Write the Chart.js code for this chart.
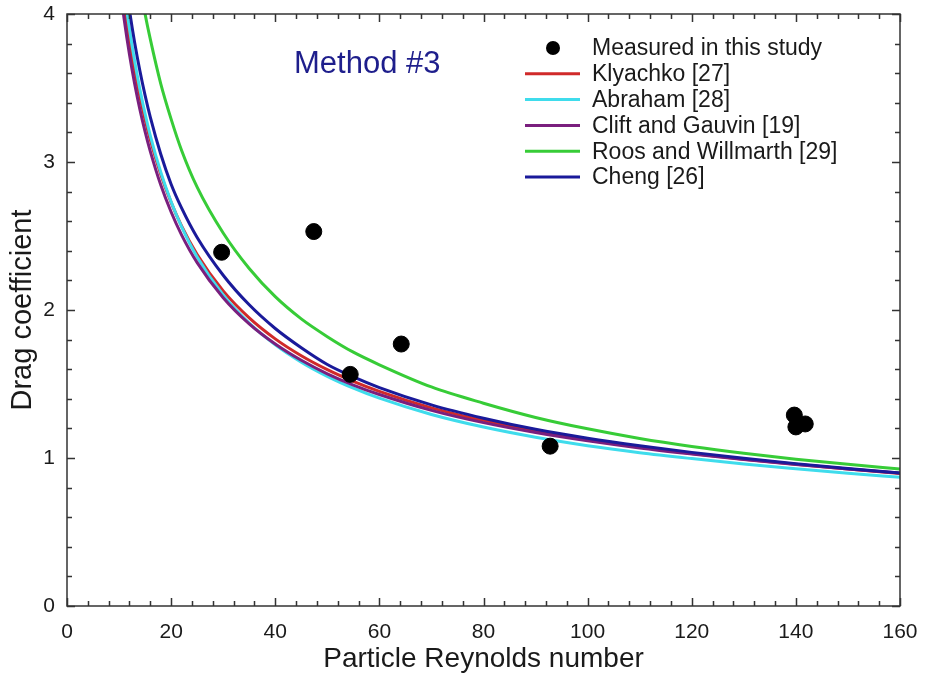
<!DOCTYPE html>
<html>
<head>
<meta charset="utf-8">
<title>Drag coefficient - Method #3</title>
<script src="https://cdn.jsdelivr.net/npm/chart.js@4.4.1/dist/chart.umd.min.js"></script>
<style>
  html, body { margin: 0; padding: 0; background: #fff; }
  canvas { display: block; }
</style>
</head>
<body>
<canvas id="chart" width="935" height="682"></canvas>
<script>
const reynolds = [10, 11, 12, 13, 14, 15, 16, 18, 20, 22, 25, 30, 35, 40, 45, 50, 55, 60, 70, 80, 90, 100, 110, 120, 130, 140, 150, 160];

// Drag coefficient of each correlation
const klyachko = [4.342, 4.060, 3.822, 3.618, 3.441, 3.286, 3.149, 2.917, 2.727, 2.568, 2.375, 2.129, 1.947, 1.805, 1.691, 1.597, 1.518, 1.450, 1.339, 1.254, 1.182, 1.124, 1.074, 1.031, 0.992, 0.957, 0.925, 0.896];
const abraham = [4.455, 4.153, 3.898, 3.680, 3.491, 3.326, 3.179, 2.932, 2.731, 2.563, 2.358, 2.101, 1.911, 1.765, 1.648, 1.552, 1.472, 1.404, 1.294, 1.209, 1.140, 1.083, 1.036, 0.996, 0.959, 0.927, 0.897, 0.870];
const cliftGauvin = [4.234, 3.959, 3.727, 3.528, 3.356, 3.205, 3.072, 2.846, 2.662, 2.508, 2.320, 2.083, 1.906, 1.770, 1.660, 1.569, 1.493, 1.429, 1.322, 1.239, 1.172, 1.116, 1.068, 1.027, 0.989, 0.956, 0.926, 0.898];
const roosWillmarth = [5.32, 4.97, 4.68, 4.42, 4.20, 4.00, 3.83, 3.53, 3.29, 3.08, 2.83, 2.52, 2.28, 2.09, 1.94, 1.82, 1.715, 1.63, 1.48, 1.37, 1.274, 1.197, 1.132, 1.078, 1.032, 0.992, 0.957, 0.926];
const cheng = [4.581, 4.279, 4.025, 3.806, 3.616, 3.450, 3.303, 3.054, 2.850, 2.690, 2.490, 2.235, 2.035, 1.875, 1.745, 1.632, 1.548, 1.476, 1.359, 1.269, 1.194, 1.134, 1.083, 1.038, 0.998, 0.962, 0.929, 0.899];

// Measured points
const measuredRe = [29.7, 47.4, 54.4, 64.2, 92.8, 139.7, 140.0, 141.8];
const measuredCd = [2.39, 2.53, 1.565, 1.77, 1.08, 1.29, 1.21, 1.23];

// Axis ticks
const xTicks = [0, 20, 40, 60, 80, 100, 120, 140, 160];
const yTicks = [0, 1, 2, 3, 4];

const FONT = "'Liberation Sans', Arial, Helvetica, sans-serif";

function toPoints(xs, ys) {
    return xs.map((x, i) => ({ x: x, y: ys[i] }));
}

function curve(label, values, color, order) {
    return {
        label: label,
        data: toPoints(reynolds, values),
        showLine: true,
        borderColor: color,
        backgroundColor: color,
        borderWidth: 3,
        pointRadius: 0,
        pointHoverRadius: 0,
        cubicInterpolationMode: 'monotone',
        clip: 0,
        order: order
    };
}

// Frame with inward ticks on all four sides, legend and the "Method #3" note
const framePlugin = {
    id: 'framePlugin',
    afterDatasetsDraw(chart) {
        const ctx = chart.ctx;
        const a = chart.chartArea;
        const xs = chart.scales.x;
        const ys = chart.scales.y;
        ctx.save();
        ctx.strokeStyle = '#333';
        ctx.lineWidth = 1.5;
        ctx.strokeRect(a.left, a.top, a.right - a.left, a.bottom - a.top);

        ctx.beginPath();
        for (let v = 0; v <= 160; v += 4) {
            const len = (v % 20 === 0) ? 8 : 5;
            const px = Math.round(xs.getPixelForValue(v)) + 0.5;
            ctx.moveTo(px, a.bottom); ctx.lineTo(px, a.bottom - len);
            ctx.moveTo(px, a.top); ctx.lineTo(px, a.top + len);
        }
        for (let k = 0; k <= 20; k++) {
            const v = k * 0.2;
            const len = (k % 5 === 0) ? 8 : 5;
            const py = Math.round(ys.getPixelForValue(v)) + 0.5;
            ctx.moveTo(a.left, py); ctx.lineTo(a.left + len, py);
            ctx.moveTo(a.right, py); ctx.lineTo(a.right - len, py);
        }
        ctx.stroke();
        ctx.restore();
    },
    afterDraw(chart) {
        const ctx = chart.ctx;
        ctx.save();
        // note
        ctx.fillStyle = '#1e1e8c';
        ctx.font = '31px ' + FONT;
        ctx.textBaseline = 'alphabetic';
        ctx.fillText('Method #3', 294, 73);

        // legend
        ctx.font = '23px ' + FONT;
        ctx.textBaseline = 'middle';
        chart.data.datasets.forEach((ds, i) => {
            const y = 48 + i * 25.8;
            if (ds.showLine) {
                ctx.strokeStyle = ds.borderColor;
                ctx.lineWidth = 3;
                ctx.beginPath();
                ctx.moveTo(525, y);
                ctx.lineTo(580, y);
                ctx.stroke();
            } else {
                ctx.fillStyle = '#000';
                ctx.beginPath();
                ctx.arc(553, y, 7, 0, Math.PI * 2);
                ctx.fill();
            }
            ctx.fillStyle = '#1a1a1a';
            ctx.fillText(ds.label, 592, y + 1);
        });
        ctx.restore();
    }
};

const ctx = document.getElementById('chart').getContext('2d');

const chart = new Chart(ctx, {
    type: 'scatter',
    data: {
        datasets: [
            {
                label: 'Measured in this study',
                data: toPoints(measuredRe, measuredCd),
                showLine: false,
                backgroundColor: '#000',
                borderColor: '#000',
                pointRadius: 8,
                pointHoverRadius: 8,
                order: 0
            },
            curve('Klyachko [27]', klyachko, '#d02a2a', 5),
            curve('Abraham [28]', abraham, '#3fdcec', 4),
            curve('Clift and Gauvin [19]', cliftGauvin, '#7a1f7e', 3),
            curve('Roos and Willmarth [29]', roosWillmarth, '#37cc37', 2),
            curve('Cheng [26]', cheng, '#1a1a9a', 1)
        ]
    },
    options: {
        responsive: false,
        animation: false,
        events: [],
        layout: { padding: { top: 14, right: 35, left: 0, bottom: 0 } },
        plugins: {
            legend: { display: false },
            tooltip: { enabled: false }
        },
        scales: {
            x: {
                type: 'linear',
                min: 0,
                max: 160,
                afterBuildTicks: (s) => { s.ticks = xTicks.map(v => ({ value: v })); },
                afterFit: (s) => { s.height = 76; },
                grid: { display: false, drawTicks: false },
                border: { display: false },
                ticks: {
                    color: '#1a1a1a',
                    padding: 14,
                    font: { family: FONT, size: 21 }
                },
                title: {
                    display: true,
                    text: 'Particle Reynolds number',
                    color: '#1a1a1a',
                    padding: { top: 0, bottom: 6 },
                    font: { family: FONT, size: 28 }
                }
            },
            y: {
                type: 'linear',
                min: 0,
                max: 4,
                afterBuildTicks: (s) => { s.ticks = yTicks.map(v => ({ value: v })); },
                afterFit: (s) => { s.width = 67; s.paddingTop = 0; s.paddingBottom = 0; },
                grid: { display: false, drawTicks: false },
                border: { display: false },
                ticks: {
                    color: '#1a1a1a',
                    padding: 12,
                    font: { family: FONT, size: 21 }
                },
                title: {
                    display: true,
                    text: 'Drag coefficient',
                    color: '#1a1a1a',
                    padding: { top: 6, bottom: 0 },
                    font: { family: FONT, size: 29 }
                }
            }
        }
    },
    plugins: [framePlugin]
});
</script>
</body>
</html>
